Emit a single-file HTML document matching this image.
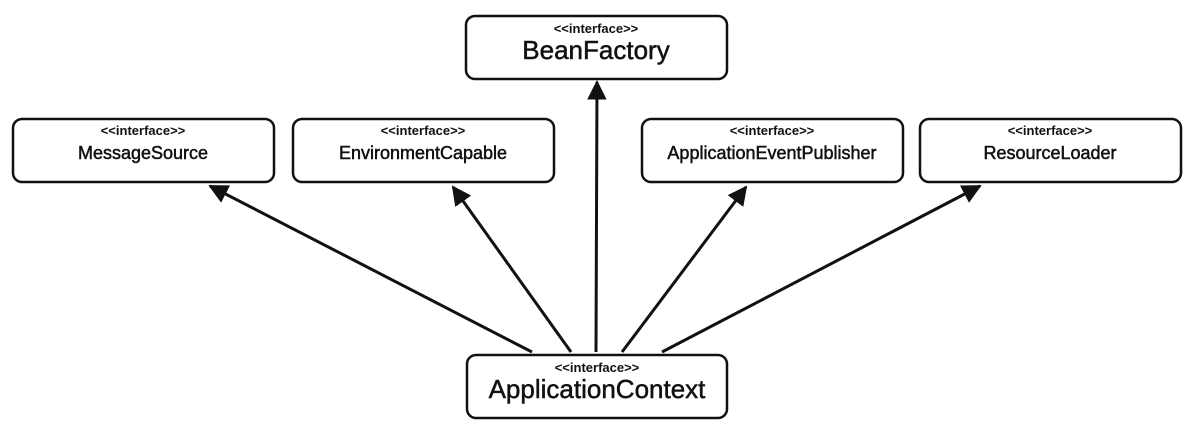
<!DOCTYPE html>
<html><head><style>body{margin:0;background:#fff}svg{display:block}</style></head>
<body>
<svg width="1194" height="430" xmlns="http://www.w3.org/2000/svg" font-family="Liberation Sans, sans-serif">
<defs><marker id="a" viewBox="0 0 10 10" refX="9" refY="5" markerWidth="6.5" markerHeight="6.5" orient="auto" markerUnits="strokeWidth"><path d="M0,0L10,5L0,10z" fill="#111"/></marker></defs>
<g stroke="#111" stroke-width="3" fill="none" marker-end="url(#a)">
<line x1="532" y1="352" x2="210" y2="186"/>
<line x1="571" y1="352" x2="453" y2="187"/>
<line x1="596" y1="352" x2="597" y2="82"/>
<line x1="622" y1="352" x2="746" y2="187"/>
<line x1="662" y1="352" x2="980" y2="186"/>
</g>
<g fill="#fff" stroke="#111" stroke-width="2.5">
<rect x="466" y="16" width="261" height="63" rx="9"/>
<rect x="13" y="119" width="261" height="63" rx="9"/>
<rect x="293" y="119" width="261" height="63" rx="9"/>
<rect x="642" y="119" width="261" height="63" rx="9"/>
<rect x="920" y="119" width="261" height="63" rx="9"/>
<rect x="467" y="355" width="260" height="63" rx="9"/>
</g>
<g fill="#111" text-anchor="middle">
<g font-size="13" font-weight="bold">
<text x="596" y="33">&lt;&lt;interface&gt;&gt;</text>
<text x="143" y="135">&lt;&lt;interface&gt;&gt;</text>
<text x="423" y="135">&lt;&lt;interface&gt;&gt;</text>
<text x="772" y="135">&lt;&lt;interface&gt;&gt;</text>
<text x="1050" y="135">&lt;&lt;interface&gt;&gt;</text>
<text x="597" y="372">&lt;&lt;interface&gt;&gt;</text>
</g>
<g stroke="#111" stroke-width="0.5">
<text x="596" y="59" font-size="26">BeanFactory</text>
<text x="597" y="398" font-size="26">ApplicationContext</text>
<g font-size="18">
<text x="143" y="159">MessageSource</text>
<text x="423" y="159">EnvironmentCapable</text>
<text x="772" y="159">ApplicationEventPublisher</text>
<text x="1050" y="159">ResourceLoader</text>
</g>
</g>
</g>
</svg>
</body></html>
